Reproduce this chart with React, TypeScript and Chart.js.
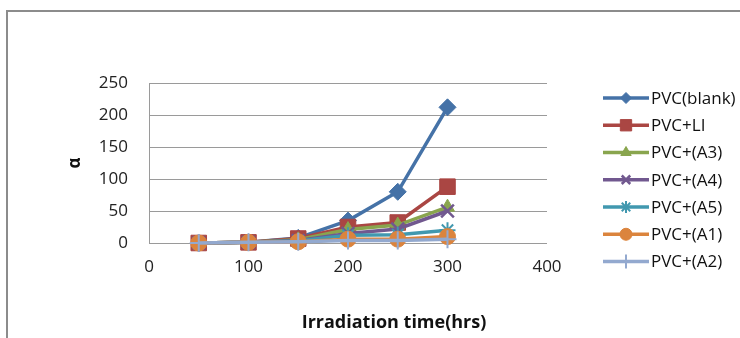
import React, { useEffect, useRef } from "react";
import { Chart, registerables } from "chart.js";
import { drawPoint } from "chart.js/helpers";

Chart.register(...registerables);

const hours = [50, 100, 150, 200, 250, 300];
const seriesNames = ["PVC(blank)", "PVC+LI", "PVC+(A3)", "PVC+(A4)", "PVC+(A5)", "PVC+(A1)", "PVC+(A2)"];
const blank = [0, 1, 8, 35, 80, 212];
const li = [0, 1, 7, 25, 32, 88];
const a3 = [0, 1, 5, 21, 28, 56];
const a4 = [0, 1, 4, 15, 22, 50];
const a5 = [0, 1, 3, 12, 13, 20];
const a1 = [0, 1, 2, 6, 6, 10];
const a2 = [0, 1, 2, 4, 4, 6];
const seriesValues = [blank, li, a3, a4, a5, a1, a2];
const xTicks = [0, 100, 200, 300, 400];
const yTicks = [0, 50, 100, 150, 200, 250];
const xTitle = "Irradiation time(hrs)";
const yTitle = "α";

const colors = ["#4572A7", "#AA4643", "#89A54E", "#71588F", "#4198AF", "#DB843D", "#93A9CF"];
const styles = ["rectRot", "rect", "triangle", "crossRot", "star", "circle", "cross"];
const radii = [8.5, 11, 8, 9, 8, 8, 9];
const pbw = [1, 1, 1, 2.5, 2, 1, 2];
const legendRadii = [5.5, 8, 6, 6, 6, 6, 7];

const FONT = "'Open Sans', 'DejaVu Sans', sans-serif";

const framePlugin = {
  id: "frame",
  beforeDraw(chart: any) {
    const ctx = chart.ctx;
    ctx.save();
    ctx.strokeStyle = "#8c8c8c";
    ctx.lineWidth = 2;
    ctx.beginPath();
    ctx.moveTo(7, 338);
    ctx.lineTo(7, 11);
    ctx.lineTo(740, 11);
    ctx.stroke();
    ctx.restore();
  },
  afterDraw(chart: any) {
    const ctx = chart.ctx;
    ctx.save();
    ctx.fillStyle = "#111";
    ctx.font = `bold 18px ${FONT}`;
    ctx.textAlign = "center";
    ctx.textBaseline = "middle";
    ctx.fillText(xTitle, 394, 323);
    ctx.save();
    ctx.translate(75, 163);
    ctx.rotate(-Math.PI / 2);
    ctx.font = `bold 17px ${FONT}`;
    ctx.fillText(yTitle, 0, 0);
    ctx.restore();
    const x0 = 603, x1 = 649, y0 = 98, step = 27.25;
    chart.data.datasets.forEach((ds: any, i: number) => {
      const y = y0 + i * step;
      ctx.strokeStyle = colors[i];
      ctx.lineWidth = 3.5;
      ctx.beginPath();
      ctx.moveTo(x0, y);
      ctx.lineTo(x1, y);
      ctx.stroke();
      ctx.fillStyle = colors[i];
      ctx.strokeStyle = colors[i];
      ctx.lineWidth = pbw[i];
      drawPoint(ctx, { pointStyle: styles[i], rotation: 0, radius: legendRadii[i], borderWidth: pbw[i] } as any, (x0 + x1) / 2, y);
      ctx.fillStyle = "#111";
      ctx.font = `17px ${FONT}`;
      ctx.textAlign = "left";
      ctx.textBaseline = "middle";
      ctx.fillText(ds.label, x1 + 2, y + 1);
    });
    ctx.restore();
  },
};

export default function App() {
  const ref = useRef<HTMLCanvasElement | null>(null);
  useEffect(() => {
    document.body.style.margin = "0";
    const canvas = ref.current;
    if (!canvas) return;
    const datasets = seriesNames.map((name, i) => ({
      label: name,
      data: hours.map((h, j) => ({ x: h, y: seriesValues[i][j] })),
      borderColor: colors[i],
      backgroundColor: colors[i],
      borderWidth: 3.5,
      pointStyle: styles[i],
      pointRadius: radii[i],
      pointBorderWidth: pbw[i],
      pointBorderColor: colors[i],
      pointBackgroundColor: colors[i],
      tension: 0,
      clip: false,
      order: seriesNames.length - i,
    }));
    const chart = new Chart(canvas, {
      type: "line",
      data: { datasets },
      options: {
        responsive: false,
        animation: false,
        layout: { padding: { left: 0, right: 193, top: 83, bottom: 0 } },
        plugins: { legend: { display: false }, tooltip: { enabled: false } },
        scales: {
          x: {
            type: "linear",
            min: 0,
            max: 400,
            afterBuildTicks: (s: any) => { s.ticks = xTicks.map((v) => ({ value: v })); },
            afterFit: (s: any) => { s.height = 95; },
            grid: { display: false, drawTicks: false },
            border: { display: false },
            ticks: { font: { family: FONT, size: 17 }, color: "#222", padding: 14, maxRotation: 0 },
          },
          y: {
            type: "linear",
            min: 0,
            max: 250,
            afterBuildTicks: (s: any) => { s.ticks = yTicks.map((v) => ({ value: v })); },
            afterFit: (s: any) => { s.width = 149; },
            grid: { color: "#9a9a9a", lineWidth: 1, drawTicks: false, tickLength: 0 },
            border: { display: true, color: "#9a9a9a", width: 1 },
            ticks: { font: { family: FONT, size: 17 }, color: "#222", padding: 21 },
          },
        },
      } as any,
      plugins: [framePlugin],
    });
    return () => chart.destroy();
  }, []);
  return <canvas ref={ref} width={740} height={338} style={{ display: "block" }} />;
}
